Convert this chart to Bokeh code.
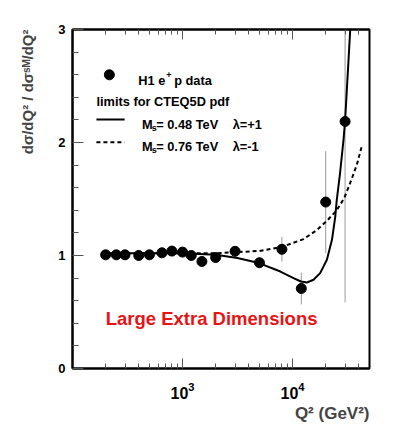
import numpy as np
from bokeh.plotting import figure
from bokeh.models import (FixedTicker, LogAxis, Label, CustomJSTickFormatter,
                          LogTickFormatter, Title)
from bokeh.embed import file_html
from bokeh.resources import INLINE

# ---------------- data ----------------
q2 = [200, 250, 300, 400, 500, 650, 800, 1000, 1200, 1500, 2000, 3000,
      5000, 8000, 12000, 20000, 30000]
ratio = [1.006, 1.006, 1.006, 1.0, 1.006, 1.024, 1.039, 1.03, 1.0, 0.947,
         0.982, 1.037, 0.936, 1.055, 0.708, 1.473, 2.186]
ratio_err = [0.02, 0.02, 0.02, 0.02, 0.02, 0.02, 0.025, 0.025, 0.03, 0.03,
             0.035, 0.035, 0.045, 0.11, 0.14, 0.45, 1.6]

solid_q2 = [200, 500, 1000, 2000, 3150, 4950, 7750, 10200, 11900, 13500,
            15500, 17800, 20500, 22800, 24400, 25200, 27000, 29000, 30000, 33500]
solid_ratio = [1.02, 1.02, 1.02, 1.006, 0.977, 0.933, 0.858, 0.80, 0.77, 0.761,
               0.785, 0.844, 0.962, 1.139, 1.34, 1.49, 1.73, 2.02, 2.19, 3.02]

dashed_q2 = [200, 500, 1000, 2000, 3100, 5000, 7900, 12600, 16700, 20500,
             25200, 29500, 33300, 38300, 42900]
dashed_ratio = [1.02, 1.02, 1.02, 1.02, 1.03, 1.04, 1.074, 1.145, 1.227, 1.307,
                1.40, 1.51, 1.64, 1.80, 1.98]

x_major_ticks = [1000, 10000]
x_minor_ticks = [200, 300, 400, 500, 600, 700, 800, 900,
                 2000, 3000, 4000, 5000, 6000, 7000, 8000, 9000,
                 20000, 30000, 40000]
y_major_ticks = [0, 1, 2, 3]
y_minor_ticks = [0.2, 0.4, 0.6, 0.8, 1.2, 1.4, 1.6, 1.8, 2.2, 2.4, 2.6, 2.8]

x_title = "Q\u00b2 (GeV\u00b2)"
y_title = "d\u03c3/dQ\u00b2 / d\u03c3\u02e2\u1d39/dQ\u00b2"

# ---------------- layout ----------------
W, H = 395, 423
FL, FT = 71, 29
FR, FB = W - 369, H - 368
XMIN, XMAX, YMIN, YMAX = 100, 50000, 0, 3
FONT = "Liberation Sans"

frame_w = W - FL - FR
frame_h = H - FT - FB


def X(px):
    """canvas pixel x -> data x"""
    cx = px - FL
    return 10 ** (np.log10(XMIN) + cx / frame_w * (np.log10(XMAX) - np.log10(XMIN)))


def Y(py):
    """canvas pixel y -> data y"""
    cy = py - FT
    return YMAX - cy / frame_h * (YMAX - YMIN)


p = figure(width=W, height=H, x_axis_type="log", x_range=(XMIN, XMAX),
           y_range=(YMIN, YMAX), output_backend="svg", toolbar_location=None,
           min_border_left=FL, min_border_right=FR, min_border_top=FT,
           min_border_bottom=FB)
p.grid.visible = False
p.outline_line_color = "black"
p.outline_line_width = 2
p.background_fill_color = "white"
p.border_fill_color = "white"

xa = p.xaxis[0]
xa.ticker = FixedTicker(ticks=x_major_ticks, minor_ticks=x_minor_ticks)
xa.formatter = LogTickFormatter()
xa.major_label_text_font = FONT
xa.major_label_text_font_style = "bold"
xa.major_label_text_font_size = "16px"
xa.major_label_text_color = "black"
xa.major_label_standoff = 13

ax_top = LogAxis(ticker=FixedTicker(ticks=x_major_ticks, minor_ticks=x_minor_ticks),
                 formatter=CustomJSTickFormatter(code="return ''"))
ax_top.major_label_text_font_size = "1px"
ax_top.major_label_standoff = 0
p.add_layout(ax_top, "above")
for ax in [xa, ax_top]:
    ax.major_tick_in = 10
    ax.major_tick_out = 0
    ax.minor_tick_in = 5
    ax.minor_tick_out = 0
    ax.major_tick_line_color = "#555555"
    ax.minor_tick_line_color = "#555555"
    ax.axis_line_width = 2
    ax.axis_line_color = "black"

ya = p.yaxis[0]
ya.ticker = FixedTicker(ticks=y_major_ticks, minor_ticks=y_minor_ticks)
ya.major_tick_in = 11
ya.major_tick_out = 0
ya.minor_tick_in = 6
ya.minor_tick_out = 0
ya.major_tick_line_color = "#555555"
ya.minor_tick_line_color = "#555555"
ya.axis_line_width = 2
ya.major_label_text_font = FONT
ya.major_label_text_font_style = "bold"
ya.major_label_text_font_size = "13px"
ya.major_label_text_color = "black"
ya.major_label_standoff = 7

# axis titles (side panels, not clipped)
p.add_layout(Title(text=x_title, align="right", text_font=FONT,
                   text_font_style="bold", text_font_size="17px",
                   standoff=0, offset=0), "below")
p.add_layout(Title(text=y_title, align="right", vertical_align="top",
                   text_font=FONT, text_font_style="bold", text_font_size="15px",
                   standoff=36, offset=0), "left")

# ---------------- data marks ----------------
lo = [r - e for r, e in zip(ratio, ratio_err)]
hi = [r + e for r, e in zip(ratio, ratio_err)]
p.segment(x0=q2, y0=lo, x1=q2, y1=hi, line_color="#9a9a9a", line_width=1)
p.line(solid_q2, solid_ratio, line_color="black", line_width=2)
p.line(dashed_q2, dashed_ratio, line_color="black", line_width=2, line_dash="4 3")
p.scatter(q2, ratio, size=10, color="black")

# ---------------- texts inside the frame ----------------


def txt(s, px, py, size, align="left", color="black", style="bold"):
    p.add_layout(Label(x=X(px), y=Y(py), text=s, text_font=FONT,
                       text_font_style=style, text_font_size=f"{size}px",
                       text_align=align, text_baseline="alphabetic",
                       text_color=color))


# legend
LS = 12.8
p.scatter([X(108)], [Y(74.3)], size=10, color="black")
txt("H1 e", 137, 80, LS)
txt("+", 165, 74.5, 9)
txt("p data", 173, 80, LS)
txt("limits for CTEQ5D pdf", 95, 101, LS)
p.line([X(95), X(123.3)], [Y(119), Y(119)], line_color="black", line_width=2)
txt("M", 140.7, 124, LS)
txt("s", 150.5, 127, 9)
txt("= 0.48 TeV", 155, 124, LS)
txt("\u03bb=+1", 231.7, 124, LS)
p.line([X(95), X(123.3)], [Y(141.7), Y(141.7)], line_color="black", line_width=2,
       line_dash="4 3")
txt("M", 140.7, 146, LS)
txt("s", 150.5, 149, 9)
txt("= 0.76 TeV", 155, 146, LS)
txt("\u03bb=-1", 231.7, 146, LS)

# red annotation
txt("Large Extra Dimensions", 104.3, 318.3, 18.5, color="#e81414")

open("out.html", "w").write(file_html(p, INLINE))
